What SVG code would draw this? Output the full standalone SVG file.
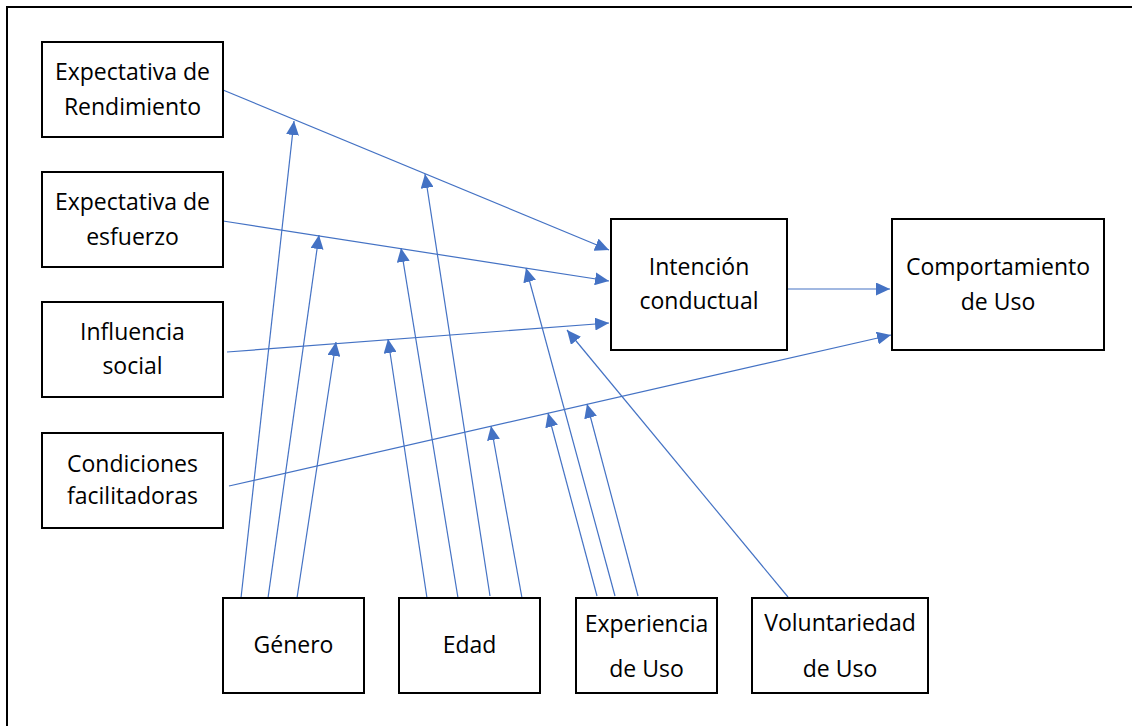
<svg xmlns="http://www.w3.org/2000/svg" width="1132" height="726" viewBox="0 0 1132 726">
  <style>
    .box { fill: #ffffff; stroke: #000000; stroke-width: 2; }
    .lbl { font-family: "Open Sans", "Noto Sans", "Liberation Sans", sans-serif; font-size: 23px; fill: #000000; text-anchor: middle; }
    .link { stroke: #4472C4; stroke-width: 1.2; fill: none; marker-end: url(#tip); }
    .frame { stroke: #000000; stroke-width: 2; fill: none; }
  </style>
  <defs>
    <marker id="tip" markerUnits="userSpaceOnUse" markerWidth="14" markerHeight="13" refX="14" refY="6.5" orient="auto">
      <path d="M0,0 L14,6.5 L0,13 Z" fill="#4472C4"/>
    </marker>
  </defs>

  <rect width="1132" height="726" fill="#ffffff"/>
  <path class="frame" d="M7,726 V7 H1132"/>

  <!-- connectors -->
  <g id="connectors">
    <line class="link" x1="223" y1="90" x2="609" y2="250"/>
    <line class="link" x1="223" y1="221" x2="609" y2="281"/>
    <line class="link" x1="227" y1="352" x2="609" y2="323"/>
    <line class="link" x1="229" y1="486" x2="891" y2="335"/>
    <line class="link" x1="787" y1="289" x2="890" y2="289"/>
    <line class="link" x1="788" y1="597" x2="567" y2="330"/>
    <!-- Género -->
    <line class="link" x1="241" y1="598" x2="294" y2="121"/>
    <line class="link" x1="268" y1="598" x2="319" y2="235"/>
    <line class="link" x1="297" y1="598" x2="336" y2="342"/>
    <!-- Edad -->
    <line class="link" x1="427" y1="598" x2="388" y2="339"/>
    <line class="link" x1="458" y1="598" x2="401" y2="248"/>
    <line class="link" x1="490" y1="596" x2="425" y2="174"/>
    <line class="link" x1="522" y1="598" x2="491" y2="426"/>
    <!-- Experiencia -->
    <line class="link" x1="597" y1="596" x2="548" y2="413"/>
    <line class="link" x1="615" y1="596" x2="526" y2="268"/>
    <line class="link" x1="638" y1="596" x2="587" y2="404"/>
  </g>

  <g id="expectativa-rendimiento">
    <rect class="box" x="42" y="42" width="181" height="95"/>
    <text class="lbl" x="132.5" y="80">Expectativa de</text>
    <text class="lbl" x="132.5" y="115">Rendimiento</text>
  </g>
  <g id="expectativa-esfuerzo">
    <rect class="box" x="42" y="172" width="181" height="95"/>
    <text class="lbl" x="132.5" y="210">Expectativa de</text>
    <text class="lbl" x="132.5" y="245">esfuerzo</text>
  </g>
  <g id="influencia-social">
    <rect class="box" x="42" y="302" width="181" height="95"/>
    <text class="lbl" x="132.5" y="340">Influencia</text>
    <text class="lbl" x="132.5" y="374">social</text>
  </g>
  <g id="condiciones-facilitadoras">
    <rect class="box" x="42" y="433" width="181" height="95"/>
    <text class="lbl" x="132.5" y="472">Condiciones</text>
    <text class="lbl" x="132.5" y="504">facilitadoras</text>
  </g>
  <g id="intencion-conductual">
    <rect class="box" x="611" y="219" width="176" height="131"/>
    <text class="lbl" x="699" y="275">Intención</text>
    <text class="lbl" x="699" y="309">conductual</text>
  </g>
  <g id="comportamiento-uso">
    <rect class="box" x="892" y="219" width="212" height="131"/>
    <text class="lbl" x="998" y="275">Comportamiento</text>
    <text class="lbl" x="998" y="310">de Uso</text>
  </g>
  <g id="genero">
    <rect class="box" x="223" y="598" width="141" height="95"/>
    <text class="lbl" x="293.5" y="653">Género</text>
  </g>
  <g id="edad">
    <rect class="box" x="399" y="598" width="141" height="95"/>
    <text class="lbl" x="469.5" y="653">Edad</text>
  </g>
  <g id="experiencia-uso">
    <rect class="box" x="576" y="598" width="141" height="95"/>
    <text class="lbl" x="646.5" y="632">Experiencia</text>
    <text class="lbl" x="646.5" y="677">de Uso</text>
  </g>
  <g id="voluntariedad-uso">
    <rect class="box" x="752" y="598" width="176" height="95"/>
    <text class="lbl" x="840" y="631">Voluntariedad</text>
    <text class="lbl" x="840" y="677">de Uso</text>
  </g>
</svg>
